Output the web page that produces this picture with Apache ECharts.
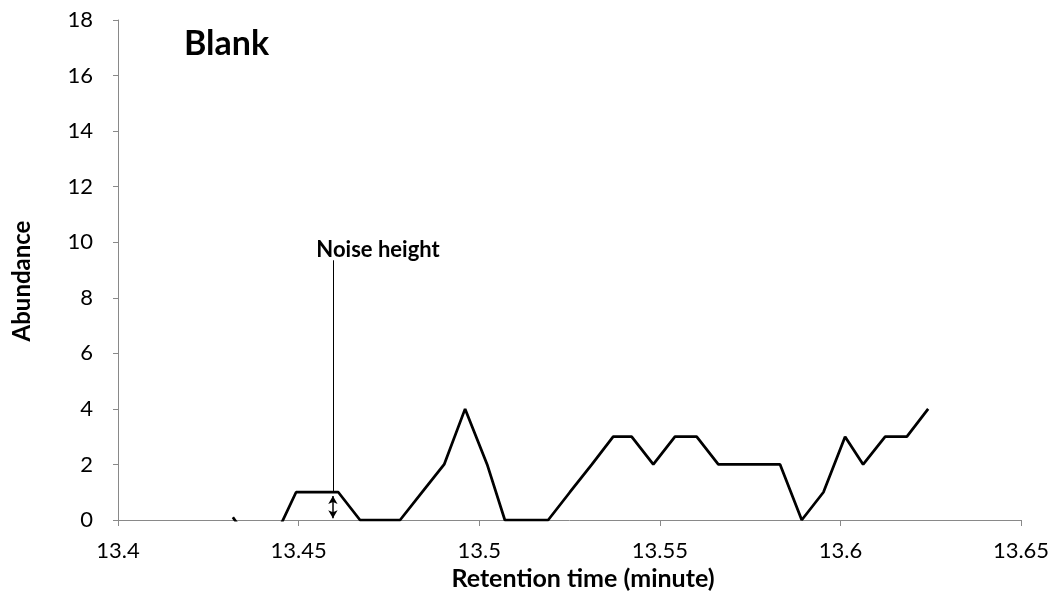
<!DOCTYPE html>
<html>
<head>
<meta charset="utf-8">
<script src="https://cdn.jsdelivr.net/npm/echarts@6/dist/echarts.min.js"></script>
<style>
html,body{margin:0;padding:0;background:#fff;}
#chart{width:1060px;height:605px;}
</style>
</head>
<body>
<div id="chart"></div>
<script>
// Retention time (minute)
const times = [13.4318, 13.4377, 13.4435, 13.4493, 13.4551, 13.4610, 13.4670, 13.4725, 13.4781,
  13.4842, 13.4903, 13.4961, 13.5022, 13.5071, 13.5132, 13.5191, 13.5251, 13.5312, 13.5371,
  13.5422, 13.5482, 13.5542, 13.5602, 13.5662, 13.5722, 13.5782, 13.5833, 13.5893, 13.5953,
  13.6013, 13.6063, 13.6124, 13.6184, 13.6243];
// Abundance
const abundance = [0.1, -1, -0.6, 1, 1, 1, 0, 0, 0,
  1, 2, 4, 2, 0, 0, 0, 1, 2, 3,
  3, 2, 3, 3, 2, 2, 2, 2, 0, 1,
  3, 2, 3, 3, 4];
const xTicks = [13.4, 13.45, 13.5, 13.55, 13.6, 13.65];
const yTicks = [0, 2, 4, 6, 8, 10, 12, 14, 16, 18];

const titleText = 'Blank';
const noiseLabel = 'Noise height';
const noiseX = 13.4595;
const noiseTop = 9.35;
const noiseLevel = 1;

const FONT = 'Lato, "Open Sans", sans-serif';
const axisGray = '#898989';

const chart = echarts.init(document.getElementById('chart'));
chart.setOption({
  animation: false,
  backgroundColor: '#fff',
  grid: {left: 118, right: 39, top: 20, bottom: 85, containLabel: false},
  xAxis: {
    type: 'value',
    min: xTicks[0], max: xTicks[xTicks.length - 1], interval: 0.05,
    splitLine: {show: false},
    axisLine: {show: true, lineStyle: {color: axisGray, width: 1}},
    axisTick: {show: true, inside: false, length: 6, lineStyle: {color: axisGray}},
    axisLabel: {
      margin: 20, color: '#000', fontFamily: FONT, fontSize: 22,
      formatter: v => String(parseFloat(Number(v).toFixed(2)))
    }
  },
  yAxis: {
    type: 'value',
    min: yTicks[0], max: yTicks[yTicks.length - 1], interval: 2,
    splitLine: {show: false},
    axisLine: {show: true, lineStyle: {color: axisGray, width: 1}},
    axisTick: {show: true, inside: false, length: 5, lineStyle: {color: axisGray}},
    axisLabel: {margin: 25, color: '#000', fontFamily: FONT, fontSize: 22}
  },
  graphic: [
    {type: 'text', left: 184, top: 27, style: {text: titleText, fontFamily: FONT, fontWeight: 'bold', fontSize: 34, fill: '#000'}},
    {type: 'text', x: 583, y: 579, style: {text: 'Retention time (minute)', fontFamily: FONT, fontWeight: 'bold', fontSize: 25, fill: '#000', align: 'center', verticalAlign: 'middle'}},
    {type: 'text', x: 22, y: 281, rotation: Math.PI / 2, style: {text: 'Abundance', fontFamily: FONT, fontWeight: 'bold', fontSize: 24, fill: '#000', align: 'center', verticalAlign: 'middle'}}
  ],
  series: [{
    type: 'line',
    data: times.map((t, i) => [t, abundance[i]]),
    symbol: 'none',
    clip: true,
    lineStyle: {color: '#000', width: 2.75},
    markLine: {
      silent: true,
      animation: false,
      label: {show: false},
      data: [
        [{coord: [noiseX, noiseLevel], symbol: 'none', lineStyle: {color: '#000', width: 1, type: 'solid'}},
         {coord: [noiseX, noiseTop], symbol: 'none'}],
        [{coord: [noiseX, 0.06], symbol: 'arrow', symbolSize: [7, 8], lineStyle: {color: '#000', width: 1.5, type: 'solid'}},
         {coord: [noiseX, 0.86], symbol: 'arrow', symbolSize: [7, 8]}]
      ]
    },
    markPoint: {
      silent: true,
      symbol: 'circle', symbolSize: 0,
      data: [{coord: [13.472, 9.72], label: {show: true, formatter: noiseLabel, fontFamily: FONT, fontWeight: 'bold', fontSize: 22, color: '#000', position: 'inside'}}]
    }
  }]
});
</script>
</body>
</html>
